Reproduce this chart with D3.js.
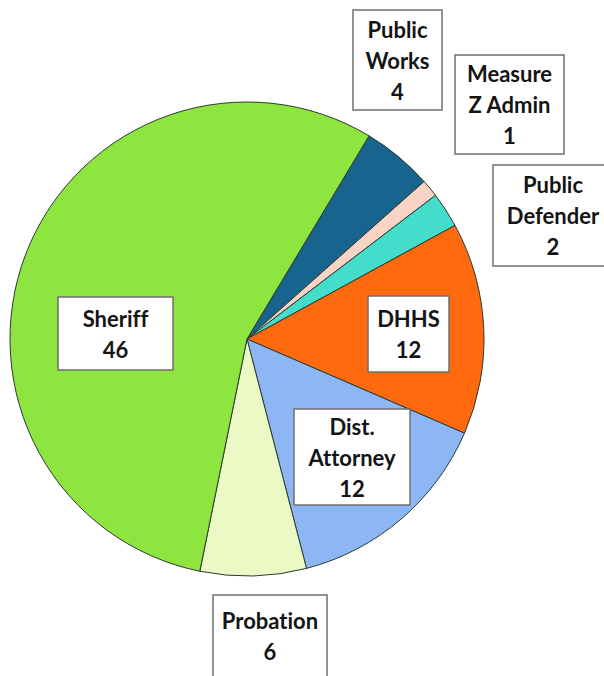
<!DOCTYPE html>
<html>
<head>
<meta charset="utf-8">
<script src="https://cdn.jsdelivr.net/npm/d3@7"></script>
<style>
  html, body { margin: 0; padding: 0; background: #fff; }
  svg { display: block; }
  .lbl text {
    font-family: Lato, "Open Sans", sans-serif; font-weight: 700; font-size: 22px; fill: #141414;
    font-variant-ligatures: none; font-feature-settings: "liga" 0, "dlig" 0;
  }
</style>
</head>
<body>
<script>
// Positions by department, drawn clockwise starting with Public Works
const departments = ["Public Works", "Measure Z Admin", "Public Defender", "DHHS", "Dist. Attorney", "Probation", "Sheriff"];
const positions = [4, 1, 2, 12, 12, 6, 46];
// Lines of each label box (the value is added as the last line)
const labelLines = [
  ["Public", "Works"],
  ["Measure", "Z Admin"],
  ["Public", "Defender"],
  ["DHHS"],
  ["Dist.", "Attorney"],
  ["Probation"],
  ["Sheriff"]
];
const sliceColors = ["#17648E", "#F9D4C4", "#44DDCB", "#FF6A0E", "#8DB6F5", "#EBF9C4", "#8EE53F"];

// Label box placement: [left, top, width, height]
const labelBoxes = [
  [353, 10, 89, 100],
  [455, 55, 109, 99],
  [493, 165, 120, 101],
  [368, 296, 81, 76],
  [294, 409, 116, 96],
  [213, 595, 114, 82],
  [58, 297, 115, 73]
];

const W = 604, H = 676;
const cx = 247, cy = 339, R = 237;
const startDeg = 31;

const svg = d3.select("body").append("svg").attr("width", W).attr("height", H);

const pie = d3.pie().sort(null).value(d => d)
  .startAngle(startDeg * Math.PI / 180)
  .endAngle(startDeg * Math.PI / 180 + 2 * Math.PI);
const arc = d3.arc().innerRadius(0).outerRadius(R);

const g = svg.append("g").attr("transform", `translate(${cx},${cy})`);
g.selectAll("path")
  .data(pie(positions))
  .join("path")
  .attr("d", arc)
  .attr("fill", (d, i) => sliceColors[i])
  .attr("stroke", "#2b3a33")
  .attr("stroke-width", 1)
  .attr("stroke-linejoin", "round");

const lineH = 31;
const labels = svg.selectAll("g.lbl")
  .data(departments.map((name, i) => ({ name, i, lines: labelLines[i].concat([String(positions[i])]), box: labelBoxes[i] })))
  .join("g")
  .attr("class", "lbl");

labels.append("rect")
  .attr("x", d => d.box[0])
  .attr("y", d => d.box[1])
  .attr("width", d => d.box[2])
  .attr("height", d => d.box[3])
  .attr("fill", "#fff")
  .attr("stroke", "#6f6f6f")
  .attr("stroke-width", 1.5);

labels.each(function(d) {
  const n = d.lines.length;
  const midX = d.box[0] + d.box[2] / 2;
  const midY = d.box[1] + d.box[3] / 2;
  const firstY = midY - (n - 1) * lineH / 2;
  const t = d3.select(this);
  d.lines.forEach((ln, k) => {
    t.append("text")
      .attr("x", midX)
      .attr("y", firstY + k * lineH)
      .attr("text-anchor", "middle")
      .attr("dominant-baseline", "central")
      .text(ln);
  });
});
</script>
</body>
</html>
